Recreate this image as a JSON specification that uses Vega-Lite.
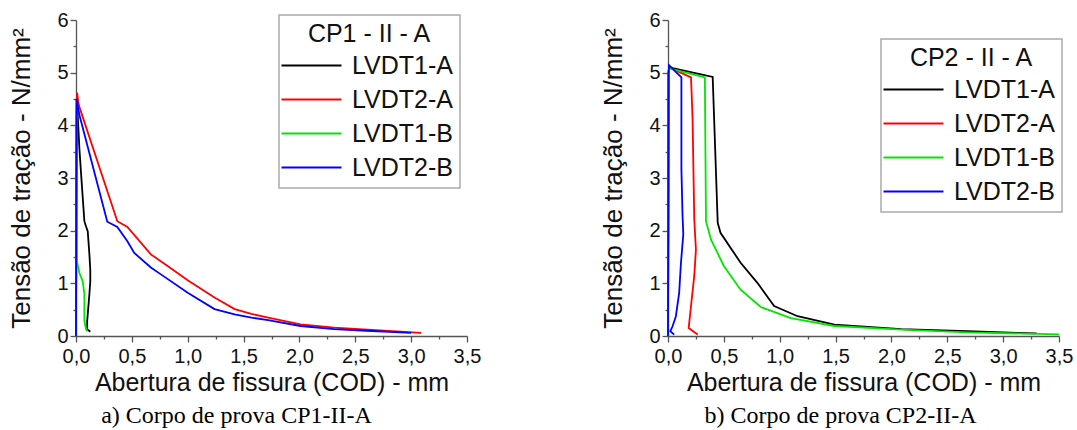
{
  "$schema": "https://vega.github.io/schema/vega-lite/v6.json",
  "background": "white",
  "padding": {"left": 8, "top": 10, "right": 5, "bottom": 0},
  "config": {
    "view": {"stroke": null},
    "font": "Liberation Sans",
    "axis": {
      "domainColor": "#555", "tickColor": "#555", "domainWidth": 1.3, "tickWidth": 1.3,
      "labelFont": "Liberation Sans", "labelFontSize": 20, "labelColor": "#111",
      "titleFont": "Liberation Sans", "titleFontWeight": "normal", "titleColor": "#111",
      "grid": false, "labelOverlap": false, "labelBound": false, "labelFlush": false
    },
    "legend": {
      "strokeColor": "#aaa", "fillColor": "white", "padding": 7, "strokeWidth": 1.5,
      "titleFont": "Liberation Sans", "titleFontSize": 25, "titleFontWeight": "normal",
      "titleAnchor": "middle", "titleColor": "#111", "titlePadding": 6,
      "labelFont": "Liberation Sans", "labelFontSize": 25, "labelColor": "#111",
      "symbolType": "M-1.7,0H4.3", "symbolSize": 400, "symbolStrokeWidth": 2,
      "rowPadding": 8, "labelOffset": 41, "cornerRadius": 0
    },
    "title": {"font": "Liberation Serif", "fontSize": 24, "fontWeight": "normal", "color": "#000", "orient": "bottom", "offset": 9, "anchor": "middle"}
  },
  "datasets": {
    "d": [
      {"cp": "CP1", "serie": "LVDT1-A", "i": 1, "x": 0, "y": 0},
      {"cp": "CP1", "serie": "LVDT1-A", "i": 2, "x": 0.003, "y": 2.5},
      {"cp": "CP1", "serie": "LVDT1-A", "i": 3, "x": 0.006, "y": 4.5},
      {"cp": "CP1", "serie": "LVDT1-A", "i": 4, "x": 0.012, "y": 4.3},
      {"cp": "CP1", "serie": "LVDT1-A", "i": 5, "x": 0.02, "y": 4.0},
      {"cp": "CP1", "serie": "LVDT1-A", "i": 6, "x": 0.03, "y": 3.57},
      {"cp": "CP1", "serie": "LVDT1-A", "i": 7, "x": 0.05, "y": 2.94},
      {"cp": "CP1", "serie": "LVDT1-A", "i": 8, "x": 0.075, "y": 2.18},
      {"cp": "CP1", "serie": "LVDT1-A", "i": 9, "x": 0.09, "y": 2.08},
      {"cp": "CP1", "serie": "LVDT1-A", "i": 10, "x": 0.105, "y": 1.99},
      {"cp": "CP1", "serie": "LVDT1-A", "i": 11, "x": 0.12, "y": 1.55},
      {"cp": "CP1", "serie": "LVDT1-A", "i": 12, "x": 0.128, "y": 1.25},
      {"cp": "CP1", "serie": "LVDT1-A", "i": 13, "x": 0.128, "y": 1.04},
      {"cp": "CP1", "serie": "LVDT1-A", "i": 14, "x": 0.12, "y": 0.8},
      {"cp": "CP1", "serie": "LVDT1-A", "i": 15, "x": 0.11, "y": 0.54},
      {"cp": "CP1", "serie": "LVDT1-A", "i": 16, "x": 0.1, "y": 0.28},
      {"cp": "CP1", "serie": "LVDT1-A", "i": 17, "x": 0.1, "y": 0.13},
      {"cp": "CP1", "serie": "LVDT1-A", "i": 18, "x": 0.128, "y": 0.08},

      {"cp": "CP1", "serie": "LVDT2-A", "i": 1, "x": 0, "y": 0},
      {"cp": "CP1", "serie": "LVDT2-A", "i": 2, "x": 0.002, "y": 2.0},
      {"cp": "CP1", "serie": "LVDT2-A", "i": 3, "x": 0.005, "y": 4.0},
      {"cp": "CP1", "serie": "LVDT2-A", "i": 4, "x": 0.01, "y": 4.62},
      {"cp": "CP1", "serie": "LVDT2-A", "i": 5, "x": 0.02, "y": 4.45},
      {"cp": "CP1", "serie": "LVDT2-A", "i": 6, "x": 0.03, "y": 4.35},
      {"cp": "CP1", "serie": "LVDT2-A", "i": 7, "x": 0.37, "y": 2.18},
      {"cp": "CP1", "serie": "LVDT2-A", "i": 8, "x": 0.46, "y": 2.07},
      {"cp": "CP1", "serie": "LVDT2-A", "i": 9, "x": 0.55, "y": 1.85},
      {"cp": "CP1", "serie": "LVDT2-A", "i": 10, "x": 0.67, "y": 1.55},
      {"cp": "CP1", "serie": "LVDT2-A", "i": 11, "x": 0.82, "y": 1.33},
      {"cp": "CP1", "serie": "LVDT2-A", "i": 12, "x": 1.0, "y": 1.06},
      {"cp": "CP1", "serie": "LVDT2-A", "i": 13, "x": 1.24, "y": 0.73},
      {"cp": "CP1", "serie": "LVDT2-A", "i": 14, "x": 1.42, "y": 0.51},
      {"cp": "CP1", "serie": "LVDT2-A", "i": 15, "x": 1.57, "y": 0.42},
      {"cp": "CP1", "serie": "LVDT2-A", "i": 16, "x": 1.72, "y": 0.35},
      {"cp": "CP1", "serie": "LVDT2-A", "i": 17, "x": 2.01, "y": 0.22},
      {"cp": "CP1", "serie": "LVDT2-A", "i": 18, "x": 2.31, "y": 0.16},
      {"cp": "CP1", "serie": "LVDT2-A", "i": 19, "x": 2.46, "y": 0.14},
      {"cp": "CP1", "serie": "LVDT2-A", "i": 20, "x": 2.76, "y": 0.1},
      {"cp": "CP1", "serie": "LVDT2-A", "i": 21, "x": 3.09, "y": 0.06},

      {"cp": "CP1", "serie": "LVDT1-B", "i": 1, "x": 0, "y": 0},
      {"cp": "CP1", "serie": "LVDT1-B", "i": 2, "x": 0.003, "y": 2.0},
      {"cp": "CP1", "serie": "LVDT1-B", "i": 3, "x": 0.005, "y": 4.4},
      {"cp": "CP1", "serie": "LVDT1-B", "i": 4, "x": 0.006, "y": 2.0},
      {"cp": "CP1", "serie": "LVDT1-B", "i": 5, "x": 0.008, "y": 1.42},
      {"cp": "CP1", "serie": "LVDT1-B", "i": 6, "x": 0.03, "y": 1.2},
      {"cp": "CP1", "serie": "LVDT1-B", "i": 7, "x": 0.06, "y": 1.04},
      {"cp": "CP1", "serie": "LVDT1-B", "i": 8, "x": 0.075, "y": 0.8},
      {"cp": "CP1", "serie": "LVDT1-B", "i": 9, "x": 0.075, "y": 0.54},
      {"cp": "CP1", "serie": "LVDT1-B", "i": 10, "x": 0.075, "y": 0.28},
      {"cp": "CP1", "serie": "LVDT1-B", "i": 11, "x": 0.09, "y": 0.13},
      {"cp": "CP1", "serie": "LVDT1-B", "i": 12, "x": 0.1, "y": 0.09},

      {"cp": "CP1", "serie": "LVDT2-B", "i": 1, "x": 0, "y": 0},
      {"cp": "CP1", "serie": "LVDT2-B", "i": 2, "x": 0.003, "y": 2.5},
      {"cp": "CP1", "serie": "LVDT2-B", "i": 3, "x": 0.006, "y": 4.5},
      {"cp": "CP1", "serie": "LVDT2-B", "i": 4, "x": 0.01, "y": 4.45},
      {"cp": "CP1", "serie": "LVDT2-B", "i": 5, "x": 0.03, "y": 4.2},
      {"cp": "CP1", "serie": "LVDT2-B", "i": 6, "x": 0.28, "y": 2.17},
      {"cp": "CP1", "serie": "LVDT2-B", "i": 7, "x": 0.37, "y": 2.07},
      {"cp": "CP1", "serie": "LVDT2-B", "i": 8, "x": 0.46, "y": 1.8},
      {"cp": "CP1", "serie": "LVDT2-B", "i": 9, "x": 0.52, "y": 1.58},
      {"cp": "CP1", "serie": "LVDT2-B", "i": 10, "x": 0.67, "y": 1.3},
      {"cp": "CP1", "serie": "LVDT2-B", "i": 11, "x": 0.76, "y": 1.17},
      {"cp": "CP1", "serie": "LVDT2-B", "i": 12, "x": 1.0, "y": 0.82},
      {"cp": "CP1", "serie": "LVDT2-B", "i": 13, "x": 1.24, "y": 0.51},
      {"cp": "CP1", "serie": "LVDT2-B", "i": 14, "x": 1.42, "y": 0.41},
      {"cp": "CP1", "serie": "LVDT2-B", "i": 15, "x": 1.57, "y": 0.35},
      {"cp": "CP1", "serie": "LVDT2-B", "i": 16, "x": 1.72, "y": 0.3},
      {"cp": "CP1", "serie": "LVDT2-B", "i": 17, "x": 2.01, "y": 0.19},
      {"cp": "CP1", "serie": "LVDT2-B", "i": 18, "x": 2.31, "y": 0.13},
      {"cp": "CP1", "serie": "LVDT2-B", "i": 19, "x": 2.6, "y": 0.1},
      {"cp": "CP1", "serie": "LVDT2-B", "i": 20, "x": 3.0, "y": 0.06},

      {"cp": "CP2", "serie": "LVDT1-A", "i": 1, "x": 0, "y": 0},
      {"cp": "CP2", "serie": "LVDT1-A", "i": 2, "x": 0.003, "y": 2.5},
      {"cp": "CP2", "serie": "LVDT1-A", "i": 3, "x": 0.005, "y": 5.0},
      {"cp": "CP2", "serie": "LVDT1-A", "i": 4, "x": 0.01, "y": 5.1},
      {"cp": "CP2", "serie": "LVDT1-A", "i": 5, "x": 0.4, "y": 4.92},
      {"cp": "CP2", "serie": "LVDT1-A", "i": 6, "x": 0.445, "y": 2.15},
      {"cp": "CP2", "serie": "LVDT1-A", "i": 7, "x": 0.47, "y": 1.96},
      {"cp": "CP2", "serie": "LVDT1-A", "i": 8, "x": 0.65, "y": 1.39},
      {"cp": "CP2", "serie": "LVDT1-A", "i": 9, "x": 0.8, "y": 1.01},
      {"cp": "CP2", "serie": "LVDT1-A", "i": 10, "x": 0.95, "y": 0.57},
      {"cp": "CP2", "serie": "LVDT1-A", "i": 11, "x": 1.16, "y": 0.375},
      {"cp": "CP2", "serie": "LVDT1-A", "i": 12, "x": 1.49, "y": 0.215},
      {"cp": "CP2", "serie": "LVDT1-A", "i": 13, "x": 2.09, "y": 0.13},
      {"cp": "CP2", "serie": "LVDT1-A", "i": 14, "x": 2.68, "y": 0.09},
      {"cp": "CP2", "serie": "LVDT1-A", "i": 15, "x": 3.13, "y": 0.057},
      {"cp": "CP2", "serie": "LVDT1-A", "i": 16, "x": 3.3, "y": 0.05},

      {"cp": "CP2", "serie": "LVDT2-A", "i": 1, "x": 0, "y": 0},
      {"cp": "CP2", "serie": "LVDT2-A", "i": 2, "x": 0.003, "y": 2.5},
      {"cp": "CP2", "serie": "LVDT2-A", "i": 3, "x": 0.005, "y": 5.0},
      {"cp": "CP2", "serie": "LVDT2-A", "i": 4, "x": 0.01, "y": 5.1},
      {"cp": "CP2", "serie": "LVDT2-A", "i": 5, "x": 0.206, "y": 4.91},
      {"cp": "CP2", "serie": "LVDT2-A", "i": 6, "x": 0.22, "y": 4.12},
      {"cp": "CP2", "serie": "LVDT2-A", "i": 7, "x": 0.235, "y": 2.22},
      {"cp": "CP2", "serie": "LVDT2-A", "i": 8, "x": 0.25, "y": 1.64},
      {"cp": "CP2", "serie": "LVDT2-A", "i": 9, "x": 0.235, "y": 1.14},
      {"cp": "CP2", "serie": "LVDT2-A", "i": 10, "x": 0.206, "y": 0.57},
      {"cp": "CP2", "serie": "LVDT2-A", "i": 11, "x": 0.185, "y": 0.15},
      {"cp": "CP2", "serie": "LVDT2-A", "i": 12, "x": 0.266, "y": 0.03},

      {"cp": "CP2", "serie": "LVDT1-B", "i": 1, "x": 0, "y": 0},
      {"cp": "CP2", "serie": "LVDT1-B", "i": 2, "x": 0.003, "y": 2.5},
      {"cp": "CP2", "serie": "LVDT1-B", "i": 3, "x": 0.005, "y": 5.0},
      {"cp": "CP2", "serie": "LVDT1-B", "i": 4, "x": 0.01, "y": 5.08},
      {"cp": "CP2", "serie": "LVDT1-B", "i": 5, "x": 0.33, "y": 4.91},
      {"cp": "CP2", "serie": "LVDT1-B", "i": 6, "x": 0.34, "y": 2.18},
      {"cp": "CP2", "serie": "LVDT1-B", "i": 7, "x": 0.385, "y": 1.83},
      {"cp": "CP2", "serie": "LVDT1-B", "i": 8, "x": 0.5, "y": 1.33},
      {"cp": "CP2", "serie": "LVDT1-B", "i": 9, "x": 0.65, "y": 0.88},
      {"cp": "CP2", "serie": "LVDT1-B", "i": 10, "x": 0.83, "y": 0.55},
      {"cp": "CP2", "serie": "LVDT1-B", "i": 11, "x": 1.1, "y": 0.34},
      {"cp": "CP2", "serie": "LVDT1-B", "i": 12, "x": 1.49, "y": 0.19},
      {"cp": "CP2", "serie": "LVDT1-B", "i": 13, "x": 2.09, "y": 0.12},
      {"cp": "CP2", "serie": "LVDT1-B", "i": 14, "x": 2.68, "y": 0.07},
      {"cp": "CP2", "serie": "LVDT1-B", "i": 15, "x": 3.5, "y": 0.03},

      {"cp": "CP2", "serie": "LVDT2-B", "i": 1, "x": 0, "y": 0},
      {"cp": "CP2", "serie": "LVDT2-B", "i": 2, "x": 0.003, "y": 2.5},
      {"cp": "CP2", "serie": "LVDT2-B", "i": 3, "x": 0.005, "y": 5.0},
      {"cp": "CP2", "serie": "LVDT2-B", "i": 4, "x": 0.01, "y": 5.14},
      {"cp": "CP2", "serie": "LVDT2-B", "i": 5, "x": 0.12, "y": 4.91},
      {"cp": "CP2", "serie": "LVDT2-B", "i": 6, "x": 0.12, "y": 3.17},
      {"cp": "CP2", "serie": "LVDT2-B", "i": 7, "x": 0.13, "y": 2.3},
      {"cp": "CP2", "serie": "LVDT2-B", "i": 8, "x": 0.137, "y": 1.93},
      {"cp": "CP2", "serie": "LVDT2-B", "i": 9, "x": 0.116, "y": 1.39},
      {"cp": "CP2", "serie": "LVDT2-B", "i": 10, "x": 0.1, "y": 0.82},
      {"cp": "CP2", "serie": "LVDT2-B", "i": 11, "x": 0.07, "y": 0.37},
      {"cp": "CP2", "serie": "LVDT2-B", "i": 12, "x": 0.04, "y": 0.18},
      {"cp": "CP2", "serie": "LVDT2-B", "i": 13, "x": 0.02, "y": 0.09},
      {"cp": "CP2", "serie": "LVDT2-B", "i": 14, "x": 0.056, "y": 0.025}
    ]
  },
  "spacing": 201,
  "bounds": "flush",
  "resolve": {"scale": {"color": "independent"}, "legend": {"color": "independent"}},
  "hconcat": [
    {
      "width": 391, "height": 316,
      "data": {"name": "d"},
      "transform": [{"filter": "datum.cp === 'CP1'"}],
      "title": {"text": "a) Corpo de prova CP1-II-A", "dx": -35},
      "mark": {"type": "line", "strokeWidth": 1.8},
      "encoding": {
        "x": {"field": "x", "type": "quantitative", "title": "Abertura de fissura (COD) - mm",
          "scale": {"domain": [0, 3.5], "nice": false, "zero": false},
          "axis": {"values": [0, 0.25, 0.5, 0.75, 1, 1.25, 1.5, 1.75, 2, 2.25, 2.5, 2.75, 3, 3.25, 3.5],
            "labelExpr": "datum.value % 0.5 === 0 ? replace(format(datum.value, '.1f'), '.', ',') : ''",
            "tickSize": {"condition": {"test": "datum.value % 0.5 === 0", "value": 6}, "value": 3},
            "labelPadding": 4, "titleFontSize": 25, "titlePadding": 4}},
        "y": {"field": "y", "type": "quantitative", "title": "Tensão de tração - N/mm²",
          "scale": {"domain": [0, 6], "nice": false, "zero": false},
          "axis": {"values": [0, 0.5, 1, 1.5, 2, 2.5, 3, 3.5, 4, 4.5, 5, 5.5, 6],
            "labelExpr": "datum.value % 1 === 0 ? format(datum.value, 'd') : ''",
            "tickSize": {"condition": {"test": "datum.value % 1 === 0", "value": 6}, "value": 3},
            "labelPadding": 2, "titleFontSize": 26, "titlePadding": 22}},
        "color": {"field": "serie", "type": "nominal",
          "scale": {"domain": ["LVDT1-A", "LVDT2-A", "LVDT1-B", "LVDT2-B"], "range": ["#000000", "#ff0000", "#00e600", "#0000ff"]},
          "legend": {"title": "CP1 - II - A", "orient": "none", "legendX": 203, "legendY": -5}},
        "order": {"field": "i", "type": "quantitative"}
      }
    },
    {
      "width": 391, "height": 316,
      "data": {"name": "d"},
      "transform": [{"filter": "datum.cp === 'CP2'"}],
      "title": {"text": "b) Corpo de prova CP2-II-A", "dx": -23},
      "mark": {"type": "line", "strokeWidth": 1.8},
      "encoding": {
        "x": {"field": "x", "type": "quantitative", "title": "Abertura de fissura (COD) - mm",
          "scale": {"domain": [0, 3.5], "nice": false, "zero": false},
          "axis": {"values": [0, 0.25, 0.5, 0.75, 1, 1.25, 1.5, 1.75, 2, 2.25, 2.5, 2.75, 3, 3.25, 3.5],
            "labelExpr": "datum.value % 0.5 === 0 ? replace(format(datum.value, '.1f'), '.', ',') : ''",
            "tickSize": {"condition": {"test": "datum.value % 0.5 === 0", "value": 6}, "value": 3},
            "labelPadding": 4, "titleFontSize": 25, "titlePadding": 4}},
        "y": {"field": "y", "type": "quantitative", "title": "Tensão de tração - N/mm²",
          "scale": {"domain": [0, 6], "nice": false, "zero": false},
          "axis": {"values": [0, 0.5, 1, 1.5, 2, 2.5, 3, 3.5, 4, 4.5, 5, 5.5, 6],
            "labelExpr": "datum.value % 1 === 0 ? format(datum.value, 'd') : ''",
            "tickSize": {"condition": {"test": "datum.value % 1 === 0", "value": 6}, "value": 3},
            "labelPadding": 2, "titleFontSize": 26, "titlePadding": 22}},
        "color": {"field": "serie", "type": "nominal",
          "scale": {"domain": ["LVDT1-A", "LVDT2-A", "LVDT1-B", "LVDT2-B"], "range": ["#000000", "#ff0000", "#00e600", "#0000ff"]},
          "legend": {"title": "CP2 - II - A", "orient": "none", "legendX": 213, "legendY": 19}},
        "order": {"field": "i", "type": "quantitative"}
      }
    }
  ]
}
